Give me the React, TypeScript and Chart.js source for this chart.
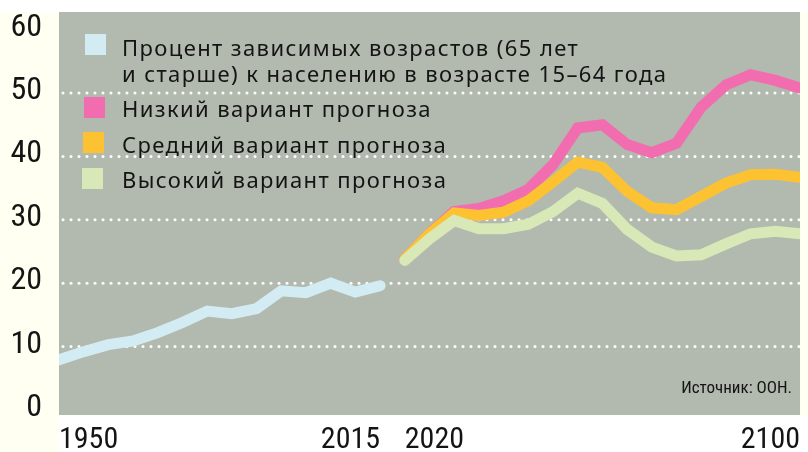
import React, { useEffect, useRef } from "react";
import { Chart, registerables } from "chart.js";

Chart.register(...registerables);

// ---- data ----
const histYears = [1950, 1955, 1960, 1965, 1970, 1975, 1980, 1985, 1990, 1995, 2000, 2005, 2010, 2015];
const histValues = [7.9, 9.2, 10.3, 10.9, 12.2, 13.8, 15.6, 15.2, 16.0, 18.8, 18.5, 20.0, 18.6, 19.6];

const projYears = [2020, 2025, 2030, 2035, 2040, 2045, 2050, 2055, 2060, 2065, 2070, 2075, 2080, 2085, 2090, 2095, 2100];
const lowVariant = [23.8, 27.8, 31.3, 31.8, 33.0, 34.8, 38.7, 44.5, 45.0, 41.9, 40.6, 42.1, 47.8, 51.3, 52.9, 52.0, 50.8];
const midVariant = [23.8, 27.8, 31.1, 30.7, 31.2, 33.0, 36.0, 39.1, 38.3, 34.5, 31.9, 31.6, 33.7, 35.8, 37.1, 37.2, 36.7];
const highVariant = [23.6, 27.0, 29.9, 28.6, 28.6, 29.3, 31.3, 34.2, 32.6, 28.5, 25.7, 24.3, 24.5, 26.2, 27.8, 28.2, 27.8];

const yTicks = [0, 10, 20, 30, 40, 50, 60];
const gridValues = [10, 20, 30, 40, 50];
const xTickYears = [1950, 2015, 2020, 2100];
const xTickLabels = ["1950", "2015", "2020", "2100"];
const xTickAlign: CanvasTextAlign[] = ["left", "right", "left", "right"];

const legendLabels = [
  ["Процент зависимых возрастов (65 лет", "и старше) к населению в возрасте 15–64 года"],
  ["Низкий вариант прогноза"],
  ["Средний вариант прогноза"],
  ["Высокий вариант прогноза"],
];
const sourceText = "Источник: ООН.";

const COLORS = {
  hist: "#d3ecf3",
  low: "#f26db0",
  mid: "#fdc232",
  high: "#d8e8b7",
  plot: "#b2b9ae",
  cream: "#fffff2",
  text: "#141414",
};
const legendColors = [COLORS.hist, COLORS.low, COLORS.mid, COLORS.high];

const NARROW = "'Liberation Sans Narrow', 'Roboto Condensed', Roboto, sans-serif";
const LEGEND_FONT = "'Noto Sans', 'DejaVu Sans', sans-serif";

const toPoints = (xs: number[], ys: number[]) => xs.map((x, i) => ({ x, y: ys[i] }));

const backgroundPlugin = {
  id: "bgPlugin",
  beforeDraw(chart: any) {
    const { ctx, chartArea, width, height } = chart;
    ctx.save();
    ctx.fillStyle = "#ffffff";
    ctx.fillRect(0, 0, width, height);
    ctx.fillStyle = COLORS.cream;
    ctx.fillRect(0, chartArea.top, chartArea.left, height - chartArea.top);
    ctx.fillRect(chartArea.right, chartArea.top, width - chartArea.right, chartArea.bottom - chartArea.top);
    ctx.fillStyle = COLORS.plot;
    ctx.fillRect(chartArea.left, chartArea.top, chartArea.right - chartArea.left, chartArea.bottom - chartArea.top);
    // dotted grid
    const y = chart.scales.y;
    ctx.fillStyle = "#ffffff";
    gridValues.forEach((v) => {
      const py = y.getPixelForValue(v);
      for (let px = chartArea.left + 4; px < chartArea.right; px += 8) {
        ctx.beginPath();
        ctx.arc(px, py, 1.5, 0, Math.PI * 2);
        ctx.fill();
      }
    });
    ctx.restore();
  },
};

const annotationsPlugin = {
  id: "annPlugin",
  afterDraw(chart: any) {
    const { ctx, chartArea } = chart;
    const x = chart.scales.x;
    const y = chart.scales.y;
    ctx.save();
    ctx.fillStyle = COLORS.text;
    // y labels
    ctx.font = `32px ${NARROW}`;
    ctx.textAlign = "right";
    ctx.textBaseline = "middle";
    yTicks.forEach((v) => {
      ctx.fillText(String(v), chartArea.left - 17, y.getPixelForValue(v) - 2);
    });
    // x labels
    ctx.font = `30px ${NARROW}`;
    ctx.textBaseline = "alphabetic";
    xTickYears.forEach((yr, i) => {
      ctx.textAlign = xTickAlign[i];
      ctx.fillText(xTickLabels[i], x.getPixelForValue(yr), chartArea.bottom + 33);
    });
    // source
    ctx.font = `17px ${NARROW}`;
    ctx.textAlign = "right";
    ctx.fillText(sourceText, chartArea.right - 8, chartArea.bottom - 22);

    // legend
    ctx.font = `22px ${LEGEND_FONT}`;
    const target = 310;
    const ref = legendLabels[1][0];
    const measured = ctx.measureText(ref).width;
    const ls = Math.max(-1, (target - measured) / ref.length);
    (ctx as any).letterSpacing = `${ls.toFixed(2)}px`;
    ctx.textAlign = "left";
    const boxes = [
      { bx: 85, by: 34, lines: [56, 82] },
      { bx: 84, by: 97, lines: [117] },
      { bx: 83, by: 132, lines: [153] },
      { bx: 82, by: 168, lines: [188] },
    ];
    boxes.forEach((b, i) => {
      ctx.fillStyle = legendColors[i];
      ctx.fillRect(b.bx, b.by, 21, 21);
      ctx.fillStyle = COLORS.text;
      legendLabels[i].forEach((t, j) => {
        ctx.fillText(t, 122, b.lines[j]);
      });
    });
    ctx.restore();
  },
};

export default function App() {
  const canvasRef = useRef<HTMLCanvasElement | null>(null);

  useEffect(() => {
    document.body.style.margin = "0";
    const canvas = canvasRef.current;
    if (!canvas) return;
    const lineBase = {
      borderWidth: 11,
      pointRadius: 0,
      tension: 0,
      fill: false,
      borderCapStyle: "round" as const,
      borderJoinStyle: "miter" as const,
    };
    const chart = new Chart(canvas, {
      type: "line",
      data: {
        datasets: [
          { ...lineBase, label: "hist", data: toPoints(histYears, histValues), borderColor: COLORS.hist, order: 3 },
          { ...lineBase, label: "low", data: toPoints(projYears, lowVariant), borderColor: COLORS.low, order: 2 },
          { ...lineBase, label: "mid", data: toPoints(projYears, midVariant), borderColor: COLORS.mid, order: 1 },
          { ...lineBase, label: "high", data: toPoints(projYears, highVariant), borderColor: COLORS.high, order: 0 },
        ],
      },
      options: {
        animation: false,
        responsive: false,
        layout: { padding: { left: 59, right: 8, top: 12, bottom: 37 } },
        plugins: { legend: { display: false }, tooltip: { enabled: false } },
        events: [],
        scales: {
          x: { type: "linear", min: 1950, max: 2100, display: false },
          y: { type: "linear", min: -0.8, max: 62.8, display: false },
        },
      },
      plugins: [backgroundPlugin, annotationsPlugin],
    });
    return () => chart.destroy();
  }, []);

  return (
    <div style={{ position: "relative", width: 808, height: 452, overflow: "hidden" }}>
      <canvas ref={canvasRef} width={808} height={452} style={{ display: "block", width: 808, height: 452 }} />
    </div>
  );
}
